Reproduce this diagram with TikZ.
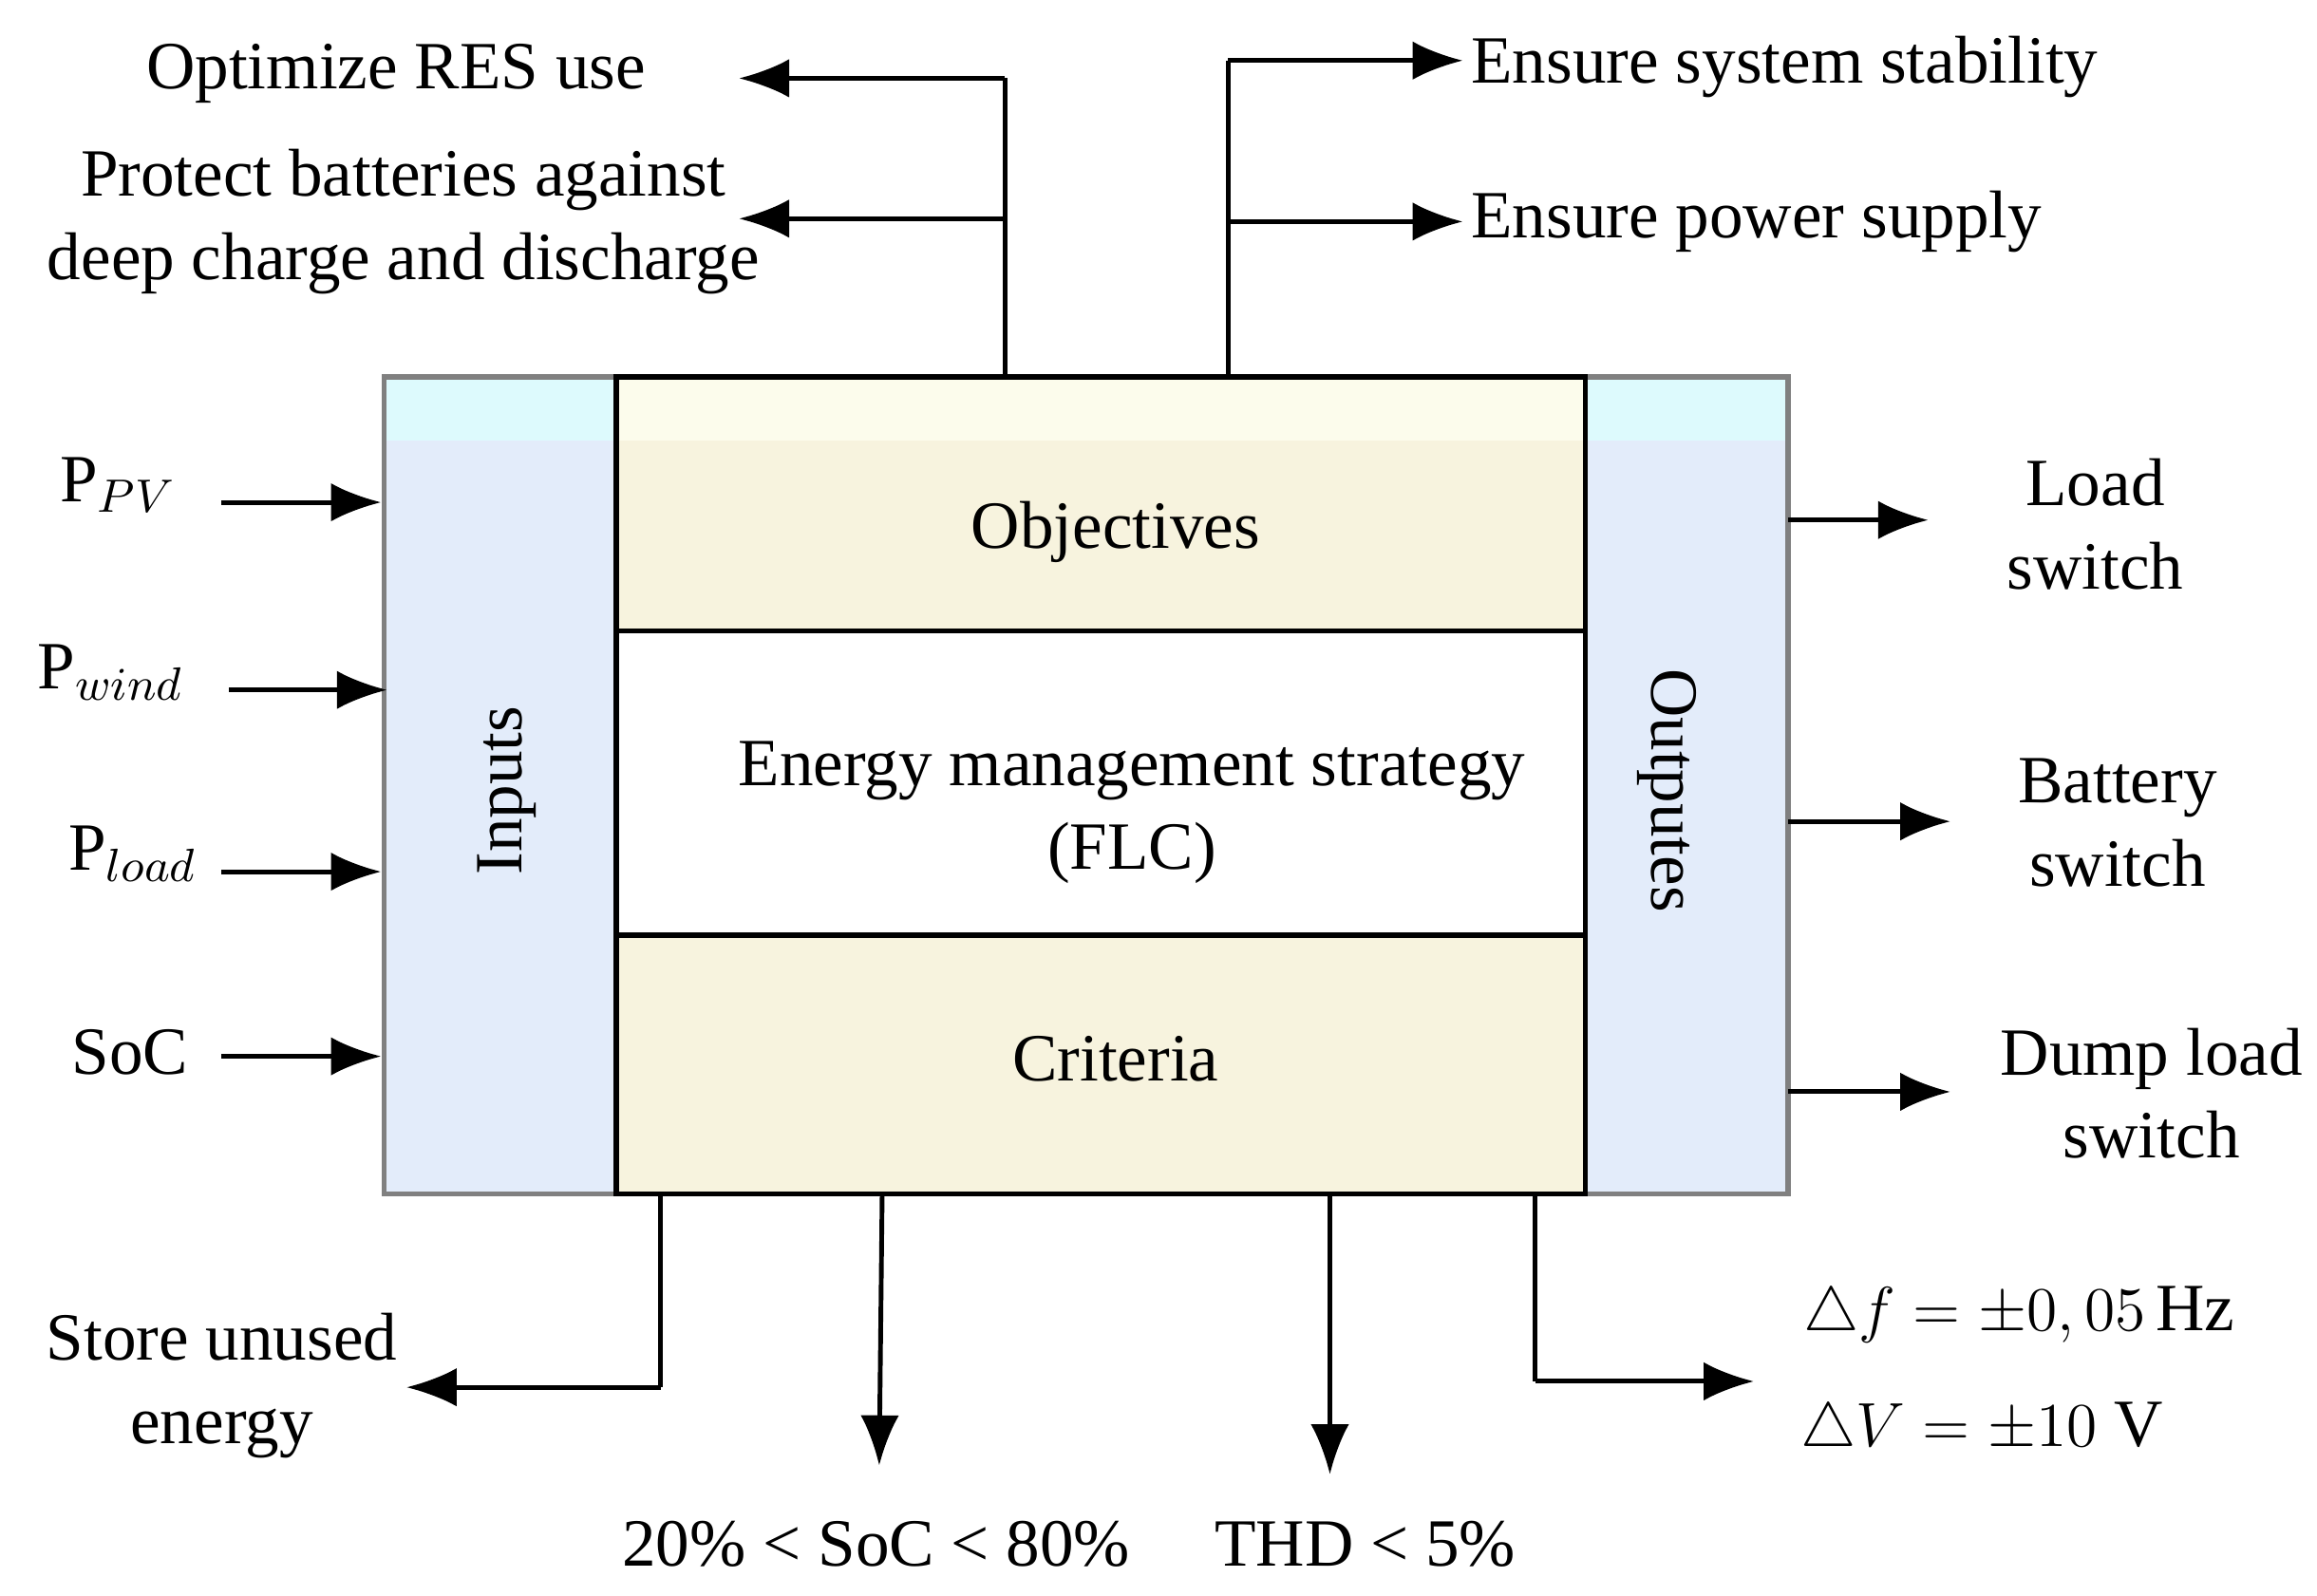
\documentclass[tikz,border=0pt]{standalone}
\usepackage{amsmath}
\usepackage{fontspec}
\setmainfont{Liberation Serif}
\usetikzlibrary{arrows.meta}
\begin{document}
\begin{tikzpicture}[x=0.01cm,y=-0.01cm,
  lbl/.style={font=\fontsize{13}{16}\selectfont,align=center,inner sep=0},
  arr/.style={line width=0.9pt,-{Latex[length=0.34cm,width=0.26cm]}},
  ln/.style={line width=0.9pt}]
\useasboundingbox (0,0) rectangle (1568,1080);
\definecolor{lb}{HTML}{E3ECFA}\definecolor{lc}{HTML}{DDFAFD}
\definecolor{cr}{HTML}{F7F3DE}\definecolor{cy}{HTML}{FCFCEC}
% outer
\fill[lb] (260,255) rectangle (1210,808);
\fill[lc] (260,255) rectangle (1210,298);
\draw[gray,line width=1pt] (260,255) rectangle (1210,808);
% inner
\fill[cr] (417,255) rectangle (1073,427);
\fill[cy] (417,255) rectangle (1073,298);
\fill[white] (417,427) rectangle (1073,633);
\fill[cr] (417,633) rectangle (1073,808);
\draw[line width=1pt] (417,255) rectangle (1073,808);
\draw[line width=1pt] (417,427) -- (1073,427) (417,633) -- (1073,633);
\node[lbl] (obj) at (755,360) {Objectives};
\node[lbl] (ems) at (766,550) {Energy management strategy\\(FLC)};
\node[lbl] (cri) at (755,717) {Criteria};
\node[lbl,rotate=90] (inp) at (343,535) {Inputs};
\node[lbl,rotate=-90] (outp) at (1128,535) {Outputes};
% inputs
\node[lbl] (ppv) at (80,328) {P$_{PV}$};
\node[lbl] (pw) at (75,455) {P$_{wind}$};
\node[lbl] (pl) at (90,578) {P$_{load}$};
\node[lbl] (soc) at (88,712) {SoC};
\coordinate (a1) at (150,340);\coordinate (b1) at (258,340);
\coordinate (a2) at (155,467);\coordinate (b2) at (262,467);
\coordinate (a3) at (150,590);\coordinate (b3) at (258,590);
\coordinate (a4) at (150,715);\coordinate (b4) at (258,715);
\draw[arr] (a1)--(b1); \draw[arr] (a2)--(b2); \draw[arr] (a3)--(b3); \draw[arr] (a4)--(b4);
% outputs
\node[lbl] (o1) at (1418,355) {Load\\switch};
\node[lbl] (o2) at (1433,557) {Battery\\switch};
\node[lbl] (o3) at (1456,740) {Dump load\\switch};
\coordinate (c1) at (1210,352);\coordinate (d1) at (1305,352);
\coordinate (c2) at (1210,556);\coordinate (d2) at (1320,556);
\coordinate (c3) at (1210,739);\coordinate (d3) at (1320,739);
\draw[arr] (c1)--(d1); \draw[arr] (c2)--(d2); \draw[arr] (c3)--(d3);
% top
\node[lbl] (t1) at (268,50) {Optimize RES use};
\node[lbl] (t2) at (273,150) {Protect batteries against\\deep charge and discharge};
\node[lbl,anchor=west] (t3) at (995,45) {Ensure system stability};
\node[lbl,anchor=west] (t4) at (995,150) {Ensure power supply};
\coordinate (u1) at (680,255);\coordinate (u1t) at (680,53);
\coordinate (u1e) at (500,53);\coordinate (u1m) at (680,148);\coordinate (u1f) at (500,148);
\draw[ln] (u1)--(u1t); \draw[arr] (u1t)--(u1e); \draw[arr] (u1m)--(u1f);
\coordinate (u2) at (831,255);\coordinate (u2t) at (831,41);
\coordinate (u2e) at (990,41);\coordinate (u2m) at (831,150);\coordinate (u2f) at (990,150);
\draw[ln] (u2)--(u2t); \draw[arr] (u2t)--(u2e); \draw[arr] (u2m)--(u2f);
% bottom
\node[lbl] (s1) at (150,938) {Store unused\\energy};
\node[lbl] (s2) at (593,1045) {20\% < SoC < 80\%};
\node[lbl] (s3) at (924,1045) {THD < 5\%};
\node[lbl,anchor=west] (s4) at (1220,890) {$\triangle f=\pm 0,05\,\mathrm{Hz}$};
\node[lbl,anchor=west] (s5) at (1218,968) {$\triangle V=\pm 10\ \mathrm{V}$};
\coordinate (e1) at (447,808);\coordinate (e1b) at (447,939);\coordinate (e1e) at (275,939);
\draw[ln] (e1)--(e1b); \draw[arr] (e1b)--(e1e);
\coordinate (e2) at (597,808);\coordinate (e2e) at (595,992);
\draw[arr] (e2)--(e2e);
\coordinate (e3) at (900,808);\coordinate (e3e) at (900,998);
\draw[arr] (e3)--(e3e);
\coordinate (e4) at (1039,808);\coordinate (e4b) at (1039,935);\coordinate (e4e) at (1187,935);
\draw[ln] (e4)--(e4b); \draw[arr] (e4b)--(e4e);
\end{tikzpicture}
\end{document}
